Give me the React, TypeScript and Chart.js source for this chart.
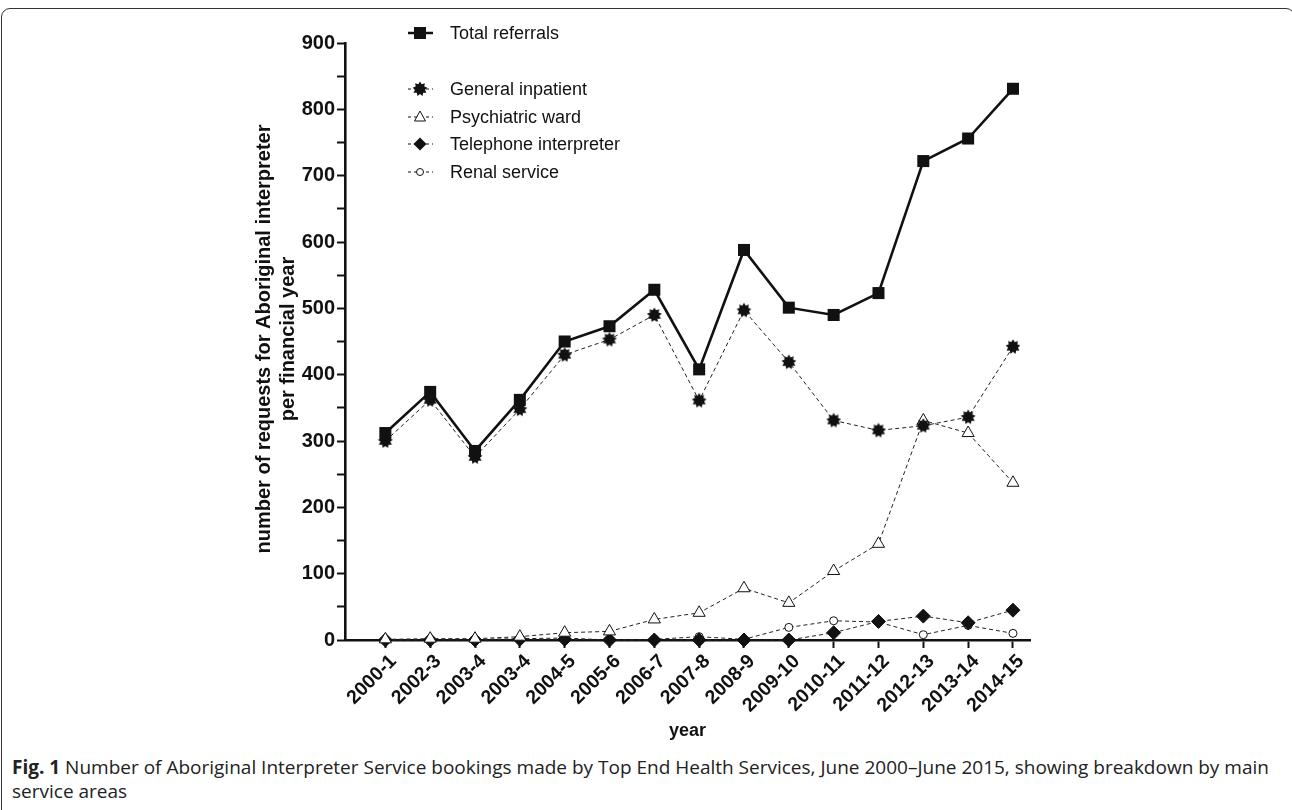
import React, { useEffect, useRef } from "react";
import { Chart, registerables } from "chart.js";

Chart.register(...registerables);

const categories = ["2000-1", "2002-3", "2003-4", "2003-4", "2004-5", "2005-6", "2006-7", "2007-8", "2008-9", "2009-10", "2010-11", "2011-12", "2012-13", "2013-14", "2014-15"];
const totalReferrals = [312, 374, 285, 362, 450, 473, 528, 408, 588, 501, 490, 523, 722, 756, 831];
const generalInpatient = [300, 362, 276, 348, 430, 453, 490, 361, 497, 419, 331, 316, 323, 336, 442];
const psychiatricWard = [1, 2, 2, 5, 11, 13, 31, 41, 78, 56, 104, 145, 331, 312, 237];
const telephoneInterpreter = [0, 0, 0, 1, 1, 0, 0, 0, 0, 0, 11, 28, 36, 26, 45];
const renalService = [0, 1, 1, 2, 3, 0, 1, 5, 1, 19, 29, 27, 8, 22, 10];
const yTitleLines = ["number of requests for Aboriginal interpreter", "per financial year"];
const xTitle = "year";

const FONT = "'Liberation Sans', Arial, sans-serif";

function makeStar(): HTMLCanvasElement {
  const c = document.createElement("canvas");
  c.width = 16;
  c.height = 16;
  const ctx = c.getContext("2d")!;
  ctx.fillStyle = "#111";
  ctx.beginPath();
  const n = 9;
  for (let i = 0; i < n * 2; i++) {
    const r = i % 2 === 0 ? 7.5 : 5;
    const a = (Math.PI * i) / n - Math.PI / 2;
    const x = 8 + r * Math.cos(a);
    const y = 8 + r * Math.sin(a);
    if (i === 0) ctx.moveTo(x, y);
    else ctx.lineTo(x, y);
  }
  ctx.closePath();
  ctx.fill();
  return c;
}

function drawMarker(ctx: CanvasRenderingContext2D, kind: string, x: number, y: number, star: HTMLCanvasElement) {
  ctx.save();
  ctx.lineWidth = 1;
  ctx.strokeStyle = "#111";
  ctx.fillStyle = "#111";
  if (kind === "rect") {
    ctx.fillRect(x - 6, y - 6, 12, 12);
  } else if (kind === "star") {
    ctx.drawImage(star, x - 8, y - 8);
  } else if (kind === "triangle") {
    ctx.fillStyle = "#fff";
    ctx.beginPath();
    ctx.moveTo(x, y - 6);
    ctx.lineTo(x + 5.5, y + 4);
    ctx.lineTo(x - 5.5, y + 4);
    ctx.closePath();
    ctx.fill();
    ctx.stroke();
  } else if (kind === "diamond") {
    ctx.beginPath();
    ctx.moveTo(x, y - 6.5);
    ctx.lineTo(x + 6.5, y);
    ctx.lineTo(x, y + 6.5);
    ctx.lineTo(x - 6.5, y);
    ctx.closePath();
    ctx.fill();
  } else if (kind === "circle") {
    ctx.fillStyle = "#fff";
    ctx.beginPath();
    ctx.arc(x, y, 3.5, 0, Math.PI * 2);
    ctx.fill();
    ctx.stroke();
  }
  ctx.restore();
}

export default function App() {
  const ref = useRef<HTMLCanvasElement | null>(null);

  useEffect(() => {
    document.body.style.margin = "0";
    const canvas = ref.current;
    if (!canvas) return;
    const star = makeStar();

    const legendItems = [
      { label: "Total referrals", kind: "rect", solid: true, y: 33 },
      { label: "General inpatient", kind: "star", solid: false, y: 89 },
      { label: "Psychiatric ward", kind: "triangle", solid: false, y: 117 },
      { label: "Telephone interpreter", kind: "diamond", solid: false, y: 144 },
      { label: "Renal service", kind: "circle", solid: false, y: 172 },
    ];

    const overlay = {
      id: "overlay",
      afterDraw(chart: any) {
        const ctx = chart.ctx as CanvasRenderingContext2D;
        ctx.save();
        ctx.fillStyle = "#111";
        ctx.font = `bold 20px ${FONT}`;
        ctx.textAlign = "center";
        ctx.textBaseline = "middle";
        const cy = 339;
        const xs = [264, 288];
        yTitleLines.forEach((t, i) => {
          ctx.save();
          ctx.translate(xs[i], cy);
          ctx.rotate(-Math.PI / 2);
          ctx.fillText(t, 0, 0);
          ctx.restore();
        });
        ctx.restore();
        ctx.save();
        legendItems.forEach((it) => {
          ctx.save();
          ctx.strokeStyle = "#111";
          if (it.solid) {
            ctx.lineWidth = 2.5;
            ctx.setLineDash([]);
          } else {
            ctx.lineWidth = 1;
            ctx.setLineDash([3, 3]);
          }
          ctx.beginPath();
          ctx.moveTo(408, it.y);
          ctx.lineTo(433, it.y);
          ctx.stroke();
          ctx.restore();
          drawMarker(ctx, it.kind, 420, it.y, star);
          ctx.fillStyle = "#111";
          ctx.font = `18px ${FONT}`;
          ctx.textAlign = "left";
          ctx.textBaseline = "middle";
          ctx.fillText(it.label, 450, it.y + 1);
        });
        ctx.restore();
      },
    };

    const toXY = (arr: number[]) => arr.map((v, i) => ({ x: i, y: v }));
    const dashed = {
      borderColor: "#222",
      borderWidth: 1,
      borderDash: [4, 3],
      pointBorderColor: "#111",
      pointBorderWidth: 1,
      clip: false as any,
    };

    const chart = new Chart(canvas, {
      type: "line",
      data: {
        datasets: [
          {
            label: "Total referrals",
            data: toXY(totalReferrals),
            borderColor: "#111",
            borderWidth: 2.6,
            pointStyle: "rect",
            pointRadius: 8.5,
            pointBackgroundColor: "#111",
            pointBorderColor: "#111",
            pointBorderWidth: 0,
            clip: false as any,
          },
          {
            label: "General inpatient",
            data: toXY(generalInpatient),
            ...dashed,
            pointStyle: star as any,
            pointRadius: 8,
          },
          {
            label: "Psychiatric ward",
            data: toXY(psychiatricWard),
            ...dashed,
            pointStyle: "triangle",
            pointRadius: 7,
            pointBackgroundColor: "#fff",
          },
          {
            label: "Telephone interpreter",
            data: toXY(telephoneInterpreter),
            ...dashed,
            pointStyle: "rectRot",
            pointRadius: 7,
            pointBackgroundColor: "#111",
          },
          {
            label: "Renal service",
            data: toXY(renalService),
            ...dashed,
            pointStyle: "circle",
            pointRadius: 4,
            pointBackgroundColor: "#fff",
          },
        ],
      },
      options: {
        animation: false,
        responsive: false,
        maintainAspectRatio: false,
        layout: { padding: { left: 0, top: 43, right: 262, bottom: 4 } },
        plugins: { legend: { display: false }, tooltip: { enabled: false } },
        elements: { line: { tension: 0 } },
        scales: {
          x: {
            type: "linear",
            min: -0.9,
            max: 14.38,
            afterBuildTicks: (axis: any) => {
              axis.ticks = categories.map((_, i) => ({ value: i }));
            },
            afterFit: (scale: any) => {
              scale.height = 108;
            },
            border: { display: true, color: "#111", width: 2.6 },
            grid: { drawOnChartArea: false, drawTicks: true, tickLength: 8, tickColor: "#111", tickWidth: 2 },
            ticks: {
              autoSkip: false,
              maxRotation: 45,
              minRotation: 45,
              color: "#111",
              padding: 2,
              labelOffset: 8,
              font: { family: FONT, size: 19.5, weight: "bold" },
              callback: (v: any) => categories[Math.round(Number(v))] ?? "",
            },
            title: { display: true, text: xTitle, color: "#111", font: { family: FONT, size: 18, weight: "bold" }, padding: { top: 0, bottom: 6 } },
          },
          y: {
            type: "linear",
            min: 0,
            max: 900,
            afterFit: (scale: any) => {
              scale.width = 345;
            },
            border: { display: true, color: "#111", width: 2.6 },
            grid: { drawOnChartArea: false, drawTicks: true, tickLength: 8, tickColor: "#111", tickWidth: 2 },
            ticks: {
              stepSize: 50,
              color: "#111",
              padding: 2,
              font: { family: FONT, size: 20, weight: "bold" },
              callback: (v: any) => (Number(v) % 100 === 0 ? String(v) : ""),
            },
          },
        },
      } as any,
      plugins: [overlay],
    });
    return () => chart.destroy();
  }, []);

  return (
    <div style={{ position: "relative", width: 1292, height: 810, overflow: "hidden", background: "#fff" }}>
      <div
        style={{
          position: "absolute",
          left: 1,
          top: 8,
          width: 1294,
          height: 900,
          border: "1.5px solid #333",
          borderRadius: 9,
          boxSizing: "border-box",
        }}
      />
      <canvas ref={ref} width={1292} height={752} style={{ position: "absolute", left: 0, top: 0, width: 1292, height: 752 }} />
      <div
        style={{
          position: "absolute",
          left: 12,
          top: 755,
          width: 1278,
          fontFamily: "'Open Sans', sans-serif",
          fontSize: 19,
          lineHeight: "24px",
          color: "#222",
        }}
      >
        <b>Fig. 1</b> Number of Aboriginal Interpreter Service bookings made by Top End Health Services, June 2000–June 2015, showing breakdown by main service areas
      </div>
    </div>
  );
}
